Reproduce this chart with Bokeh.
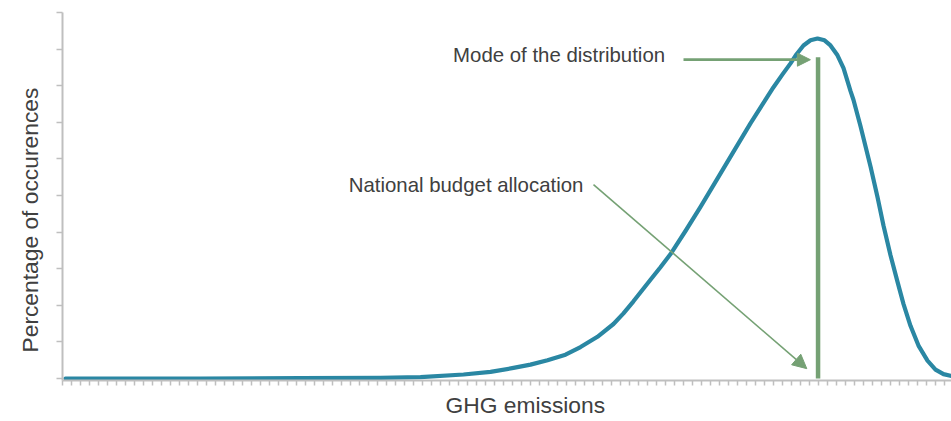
from bokeh.plotting import figure
from bokeh.models import Range1d, FixedTicker, Label, Arrow, NormalHead, Title
from bokeh.embed import file_html
from bokeh.resources import INLINE

# Distribution curve (x in tick units, y in percentage units)
curve_x = [0.33, 15.33, 26.44, 35.33, 39.78, 44.56, 47.56, 50.11, 52.0, 53.89, 55.89,
           57.56, 59.44, 61.22, 62.33, 63.44, 65.33, 66.44, 67.56, 69.22, 70.89, 72.67,
           74.56, 76.44, 77.78, 79.0, 80.0, 80.89, 81.56, 82.33, 83.11, 83.89, 84.67,
           85.33, 86.11, 86.78, 87.56, 87.89, 88.67, 89.78, 90.56, 91.22, 92.0, 92.78,
           93.44, 94.22, 95.11, 96.11, 97.0, 97.89, 98.78]
curve_y = [0.0, 0.0, 0.01, 0.02, 0.04, 0.11, 0.18, 0.29, 0.38, 0.50, 0.65,
           0.86, 1.14, 1.49, 1.78, 2.11, 2.70, 3.04, 3.40, 4.03, 4.69, 5.42,
           6.20, 6.97, 7.49, 7.96, 8.31, 8.61, 8.86, 9.10, 9.24, 9.29, 9.24,
           9.10, 8.83, 8.48, 7.85, 7.61, 6.89, 5.79, 4.95, 4.18, 3.37, 2.64,
           2.04, 1.44, 0.90, 0.49, 0.245, 0.12, 0.068]

# Mode marker
mode_x = 83.95
mode_height = 8.78

y_ticks = list(range(0, 11))
x_ticks = list(range(0, 99))

x_label = "GHG emissions"
y_label = "Percentage of occurences"
mode_text = "Mode of the distribution"
budget_text = "National budget allocation"

TEAL = "#2a87a3"
GREEN = "#75a174"
AXIS = "#bfbfbf"
TEXT = "#404040"
FONT = "Liberation Sans"

p = figure(width=951, height=421, output_backend="svg", toolbar_location=None,
           x_range=Range1d(0, 889 / 9), y_range=Range1d(-0.054, 10),
           min_border_left=62, min_border_right=0, min_border_top=12,
           min_border_bottom=39)
p.outline_line_color = None
p.xgrid.visible = False
p.ygrid.visible = False
p.background_fill_color = "white"
p.border_fill_color = "white"

for ax in (p.xaxis[0], p.yaxis[0]):
    ax.axis_line_color = AXIS
    ax.axis_line_width = 2
    ax.major_tick_line_color = AXIS
    ax.major_tick_line_width = 1.5
    ax.major_tick_in = 0
    ax.minor_tick_line_color = None
    ax.major_label_text_font_size = "0px"
    ax.major_label_text_color = None

p.xaxis[0].ticker = FixedTicker(ticks=x_ticks)
p.xaxis[0].major_tick_out = 5
p.yaxis[0].ticker = FixedTicker(ticks=y_ticks)
p.yaxis[0].major_tick_out = 6

# curve
p.line(curve_x, curve_y, line_color=TEAL, line_width=4.2, line_join="round", line_cap="round")

# mode vertical line
p.segment(x0=[mode_x], y0=[0], x1=[mode_x], y1=[mode_height], line_color=GREEN, line_width=4.5)

# arrows
p.add_layout(Arrow(end=NormalHead(size=13, fill_color=GREEN, line_color=GREEN, line_width=1),
                   x_start=69.0, y_start=8.71, x_end=83.1, y_end=8.71,
                   line_color=GREEN, line_width=2.7))
p.add_layout(Arrow(end=NormalHead(size=14, fill_color=GREEN, line_color=GREEN, line_width=1),
                   x_start=59.0, y_start=5.30, x_end=82.7, y_end=0.27,
                   line_color=GREEN, line_width=1.6))

# texts
p.add_layout(Label(x=43.4, y=8.83, text=mode_text, text_font=FONT, text_font_size="20.4px",
                   text_color=TEXT, text_align="left", text_baseline="middle"))
p.add_layout(Label(x=31.8, y=5.30, text=budget_text, text_font=FONT, text_font_size="20.4px",
                   text_color=TEXT, text_align="left", text_baseline="middle"))

p.add_layout(Title(text=x_label, align="left", offset=383, standoff=8,
                   text_font=FONT, text_font_size="22.8px", text_font_style="normal",
                   text_color=TEXT), "below")
p.add_layout(Title(text=y_label, align="left", offset=28, standoff=28,
                   text_font=FONT, text_font_size="22.8px", text_font_style="normal",
                   text_color=TEXT), "left")

open("out.html", "w").write(file_html(p, INLINE))
